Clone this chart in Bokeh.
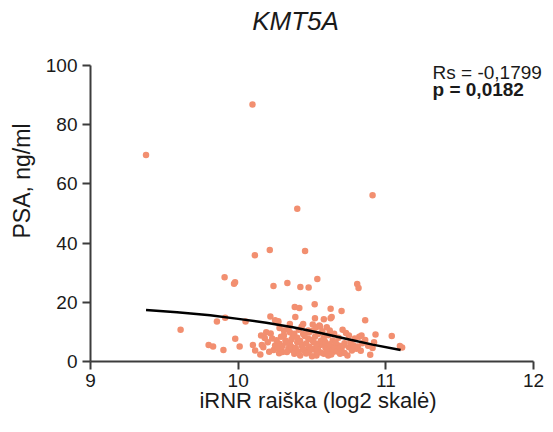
from bokeh.plotting import figure
from bokeh.models import Label, FixedTicker, Range1d
from bokeh.embed import file_html
from bokeh.resources import INLINE

# ---- data ----
title_text = "KMT5A"
x_label = "iRNR raiška (log2 skalė)"
y_label = "PSA, ng/ml"
rs_text = "Rs = -0,1799"
p_text = "p = 0,0182"
x_ticks = [9, 10, 11, 12]
y_ticks = [0, 20, 40, 60, 80, 100]

xs = [9.376, 10.097, 10.91, 10.40, 10.113, 10.214, 10.453,
      9.908, 9.972, 9.979, 10.239, 10.333, 10.421, 10.477, 10.536, 10.806, 10.815,
      10.383, 10.414, 10.518, 10.626, 10.70, 10.86,
      9.61, 9.856, 9.912, 10.05, 10.218, 10.387, 10.52, 10.58, 10.626, 10.707, 10.93, 11.04, 11.095, 11.11, 10.894,
      9.80, 9.83, 9.90, 9.98, 10.01, 10.10, 10.115, 10.15, 10.155, 10.18, 10.24, 10.277,
      10.29, 10.31, 10.35, 10.37, 10.41, 10.44, 10.475, 10.51, 10.54, 10.58, 10.60, 10.62, 10.64, 10.68, 10.70,
      10.72, 10.75, 10.75, 10.80, 10.82, 10.84, 10.835, 10.92, 10.91, 10.53, 10.53, 10.45, 10.475, 10.37, 10.34,
      10.30, 10.20, 10.17, 10.64, 10.62, 10.59, 10.55, 10.51, 10.43, 10.40, 10.35, 10.32, 10.28, 10.25, 10.33,
      10.42, 10.58, 10.61, 10.69, 10.74, 10.51, 10.475, 10.35, 10.27, 10.25, 10.44, 10.55,
      10.527, 10.554, 10.272, 10.505, 10.633,
      10.22, 10.26, 10.27, 10.30, 10.31, 10.33, 10.34, 10.36, 10.36, 10.38, 10.38, 10.39, 10.40, 10.41, 10.42,
      10.43, 10.44, 10.45, 10.46, 10.46, 10.48, 10.48, 10.49, 10.50, 10.50, 10.52, 10.53, 10.54, 10.56, 10.56,
      10.57, 10.57, 10.59, 10.60, 10.61, 10.62, 10.63, 10.65, 10.65, 10.66, 10.67, 10.68, 10.69, 10.71, 10.72,
      10.73, 10.76, 10.77, 10.78, 10.79, 10.81, 10.83, 10.86, 10.88, 10.21, 10.23, 10.19, 10.16, 10.28]
ys = [69.8, 86.8, 56.2, 51.6, 35.9, 37.7, 37.3,
      28.5, 26.3, 26.8, 25.5, 26.5, 25.2, 25.0, 27.9, 26.2, 24.8,
      18.4, 18.1, 19.3, 17.8, 17.1, 13.9,
      10.7, 13.5, 14.8, 13.5, 15.2, 15.0, 14.6, 14.3, 14.6, 10.7, 9.1, 8.6, 5.2, 4.7, 2.3,
      5.6, 5.1, 3.9, 7.7, 5.1, 5.6, 3.7, 2.4, 8.8, 7.9, 3.9, 2.8,
      8.4, 10.5, 9.9, 8.4, 10.7, 9.3, 7.7, 6.5, 9.3, 8.2, 11.6, 10.5, 7.1, 5.4, 3.7,
      6.2, 8.8, 4.8, 4.3, 8.4, 6.2, 8.8, 6.5, 4.6, 2.0, 3.2, 3.7, 3.2, 3.7, 4.3,
      3.2, 6.5, 4.8, 3.2, 4.3, 4.8, 5.4, 4.3, 5.4, 6.5, 6.0, 7.1, 6.0, 5.4, 3.2,
      2.0, 2.6, 2.0, 2.6, 2.0, 10.5, 10.5, 12.7, 13.0, 13.9, 12.7, 12.2,
      11.6, 11.8, 13.6, 12.5, 15.0,
      9.5, 7.2, 4.5, 5.2, 8.9, 6.3, 11.2, 5.0, 7.4, 2.6, 9.4, 4.6, 8.0, 3.4, 6.9,
      11.8, 4.2, 8.6, 6.1, 2.7, 5.0, 9.8, 3.9, 7.3, 1.8, 8.4, 6.0, 4.0, 7.0, 3.0,
      10.2, 5.9, 6.6, 3.6, 8.9, 5.8, 2.4, 4.9, 9.4, 6.4, 3.4, 8.0, 4.6, 5.3, 2.9,
      9.6, 6.6, 3.7, 5.5, 7.8, 5.1, 3.6, 7.3, 5.3, 3.3, 7.8, 9.9, 5.6, 11.3]

curve_x = [9.376, 9.586, 9.81, 10.0, 10.19, 10.37, 10.55, 10.73, 10.91, 11.1]
curve_y = [17.4, 16.6, 15.6, 14.4, 13.1, 11.6, 9.7, 7.7, 5.7, 3.9]

FONT = "Liberation Sans"
AX = "#3c3c3c"
TXT = "#1a1a1a"

# frame spans the whole top/right so that title and statistics are not clipped;
# axis bounds keep the axis lines at 9-12 and 0-100
p = figure(width=545, height=424, output_backend="svg", toolbar_location=None,
           x_range=Range1d(9, 12.081), y_range=Range1d(0, 121.96),
           min_border_left=90, min_border_right=0, min_border_top=0, min_border_bottom=63,
           background_fill_color="white", border_fill_color="white")
p.outline_line_color = None
p.grid.visible = False

p.scatter(xs, ys, size=6.5, fill_color="#F28F70", line_color=None)
p.line(curve_x, curve_y, line_color="black", line_width=2.5)

for ax in (p.xaxis[0], p.yaxis[0]):
    ax.axis_line_color = AX
    ax.axis_line_width = 2
    ax.major_tick_line_color = AX
    ax.major_tick_line_width = 2
    ax.major_tick_out = 8
    ax.major_tick_in = 0
    ax.minor_tick_line_color = None
    ax.major_label_text_font = FONT
    ax.major_label_text_font_size = "19px"
    ax.major_label_text_color = TXT
    ax.axis_label_text_font = FONT
    ax.axis_label_text_font_style = "normal"
    ax.axis_label_text_color = TXT

p.xaxis[0].ticker = FixedTicker(ticks=x_ticks)
p.yaxis[0].ticker = FixedTicker(ticks=y_ticks)
p.xaxis[0].bounds = (9, 12)
p.yaxis[0].bounds = (0, 100)
p.xaxis[0].axis_label = x_label
p.yaxis[0].axis_label = y_label
p.xaxis[0].axis_label_text_font_size = "22px"
p.yaxis[0].axis_label_text_font_size = "23px"
p.xaxis[0].major_label_standoff = 4
p.yaxis[0].major_label_standoff = 5
p.xaxis[0].axis_label_standoff = -2
p.yaxis[0].axis_label_standoff = 8

p.add_layout(Label(x=10.388, y=114.9, text=title_text, text_align="center",
                   text_baseline="middle", text_font=FONT, text_font_size="26px",
                   text_font_style="italic", text_color=TXT))
p.add_layout(Label(x=11.316, y=97.7, text=rs_text, text_align="left",
                   text_baseline="alphabetic", text_font=FONT, text_font_size="19px",
                   text_color=TXT))
p.add_layout(Label(x=11.316, y=91.8, text=p_text, text_align="left",
                   text_baseline="alphabetic", text_font=FONT, text_font_size="19px",
                   text_font_style="bold", text_color=TXT))

open("out.html", "w").write(file_html(p, INLINE))
